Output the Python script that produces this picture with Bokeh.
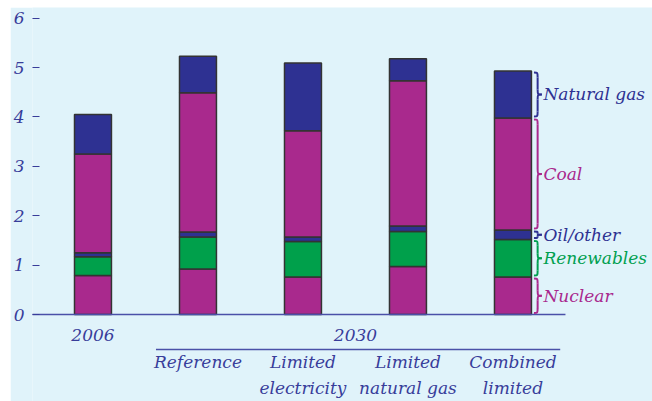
from bokeh.plotting import figure
from bokeh.models import FixedTicker, ColumnDataSource, Range1d
from bokeh.embed import file_html
from bokeh.resources import INLINE
from bokeh.core.properties import value

# ---------------- data ----------------
cases = ["2006", "Reference", "Limited electricity", "Limited natural gas", "Combined limited"]
label_line1 = ["", "Reference", "Limited", "Limited", "Combined"]
label_line2 = ["", "", "electricity", "natural gas", "limited"]
years = ["2006", "2030"]

nuclear = [0.79, 0.92, 0.76, 0.97, 0.76]
renewables = [0.38, 0.65, 0.72, 0.71, 0.76]
oil_other = [0.08, 0.10, 0.09, 0.11, 0.19]
coal = [2.00, 2.82, 2.15, 2.94, 2.27]
natural_gas = [0.80, 0.74, 1.37, 0.45, 0.95]

series_names = ["Nuclear", "Renewables", "Oil/other", "Coal", "Natural gas"]
y_ticks = [0, 1, 2, 3, 4, 5, 6]

# ---------------- style ----------------
NAVY = "#2E3192"
MAGENTA = "#A9298D"
GREEN = "#00A04B"
BG = "#E0F3FA"
TXT = "#383D9A"
FONT = value("DejaVu Serif")
colors = [MAGENTA, GREEN, NAVY, MAGENTA, NAVY]
label_colors = [MAGENTA, "#00A050", NAVY, MAGENTA, NAVY]

xs = list(range(len(cases)))
src = ColumnDataSource(dict(x=xs, Nuclear=nuclear, Renewables=renewables,
                            **{"Oil/other": oil_other}, Coal=coal,
                            **{"Natural gas": natural_gas}))

p = figure(width=642, height=394, margin=(7, 0, 0, 10),
           output_backend="svg", toolbar_location=None,
           x_axis_location=None, y_axis_location="left",
           min_border_left=22, min_border_right=0, min_border_top=0, min_border_bottom=0,
           x_range=Range1d(-0.576, 5.329), y_range=Range1d(-1.761, 6.215))
p.background_fill_color = BG
p.border_fill_color = BG
p.outline_line_color = None
p.grid.visible = False

ax = p.yaxis[0]
ax.ticker = FixedTicker(ticks=y_ticks)
ax.axis_line_color = None
ax.major_tick_in = 7
ax.major_tick_out = 0
ax.minor_tick_line_color = None
ax.major_tick_line_color = TXT
ax.major_tick_line_width = 1.2
ax.major_label_standoff = 8
ax.major_label_text_font = "DejaVu Serif"
ax.major_label_text_font_style = "italic"
ax.major_label_text_font_size = "17px"
ax.major_label_text_color = TXT

# bars
p.vbar_stack(series_names, x="x", width=0.352, color=colors, line_color="#333333",
             line_width=1.5, source=src)

# baseline
p.segment(x0=[-0.6], y0=[0], x1=[len(cases) - 0.5], y1=[0], line_color="#4A50A8", line_width=1.5)

# year labels
p.text(x=[0, (1 + len(cases) - 1) / 2], y=[-0.42, -0.42], text=years, text_font=FONT,
       text_font_style="italic", text_font_size="17px", text_color=TXT,
       text_align="center", text_baseline="middle")
p.segment(x0=[0.6], y0=[-0.71], x1=[len(cases) - 1 + 0.45], y1=[-0.71], line_color="#4A50A8", line_width=1.5)
p.text(x=xs, y=[-0.97] * len(xs), text=label_line1, text_font=FONT, text_font_style="italic",
       text_font_size="17px", text_color=TXT, text_align="center", text_baseline="middle")
p.text(x=xs, y=[-1.49] * len(xs), text=label_line2, text_font=FONT, text_font_style="italic",
       text_font_size="17px", text_color=TXT, text_align="center", text_baseline="middle")

# braces for last bar
last = len(cases) - 1
vals = [nuclear[last], renewables[last], oil_other[last], coal[last], natural_gas[last]]
xL = last + 0.20
xV = last + 0.235
xR = last + 0.275
gap = 0.03
bz = dict(x0=[], y0=[], x1=[], y1=[], cx0=[], cy0=[], cx1=[], cy1=[], c=[])
sg = dict(x0=[], y0=[], x1=[], y1=[], c=[])
lab = dict(x=[], y=[], t=[], c=[])
bottom = 0.0
for v, name, col in zip(vals, series_names, label_colors):
    lo, hi = bottom + gap, bottom + v - gap
    mid = bottom + v / 2
    d = min(0.1, (hi - lo) / 4)
    for (a, b, cx, cy) in [((xL, hi), (xV, hi - d), xV, hi),
                           ((xL, lo), (xV, lo + d), xV, lo),
                           ((xV, mid + d), (xR, mid), xV, mid),
                           ((xV, mid - d), (xR, mid), xV, mid)]:
        bz["x0"].append(a[0]); bz["y0"].append(a[1])
        bz["x1"].append(b[0]); bz["y1"].append(b[1])
        bz["cx0"].append(cx); bz["cy0"].append(cy)
        bz["cx1"].append(cx); bz["cy1"].append(cy)
        bz["c"].append(col)
    for (ya, yb) in [(hi - d, mid + d), (mid - d, lo + d)]:
        if ya > yb:
            sg["x0"].append(xV); sg["y0"].append(ya)
            sg["x1"].append(xV); sg["y1"].append(yb)
            sg["c"].append(col)
    lab["x"].append(xR + 0.015); lab["y"].append(mid); lab["t"].append(name); lab["c"].append(col)
    bottom += v

p.bezier(x0="x0", y0="y0", x1="x1", y1="y1", cx0="cx0", cy0="cy0", cx1="cx1", cy1="cy1",
         line_color="c", line_width=2, source=ColumnDataSource(bz))
p.segment(x0="x0", y0="y0", x1="x1", y1="y1", line_color="c", line_width=2,
          source=ColumnDataSource(sg))
p.text(x="x", y="y", text="t", text_color="c", text_font=FONT, text_font_style="italic",
       text_font_size="17px", text_align="left", text_baseline="middle",
       source=ColumnDataSource(lab))

open("out.html", "w").write(file_html(p, INLINE))
